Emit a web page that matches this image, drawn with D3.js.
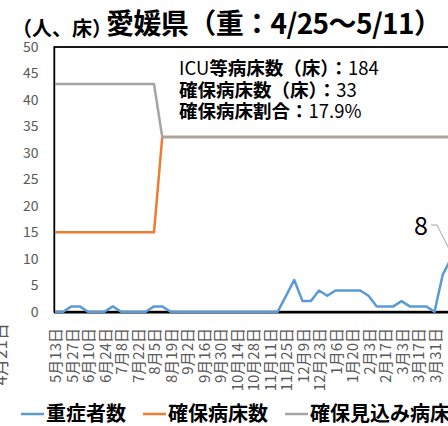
<!DOCTYPE html>
<meta charset="utf-8">
<script src="https://cdn.jsdelivr.net/npm/d3@7"></script>
<style>
  body { margin: 0; background: #fff; }
  text { font-family: "Noto Sans CJK JP", "Noto Sans", sans-serif; }
</style>
<body>
<script>

var width = 448
var height = 426

// weekly dates
var dates = ["5月13日","5月20日","5月27日","6月3日","6月10日","6月17日","6月24日","7月1日","7月8日","7月15日",
  "7月22日","7月29日","8月5日","8月12日","8月19日","8月26日","9月2日","9月9日","9月16日","9月23日",
  "9月30日","10月7日","10月14日","10月21日","10月28日","11月4日","11月11日","11月18日","11月25日","12月2日",
  "12月9日","12月16日","12月23日","12月30日","1月6日","1月13日","1月20日","1月27日","2月3日","2月10日",
  "2月17日","2月24日","3月3日","3月10日","3月17日","3月24日","3月31日","4月7日","4月14日","4月21日"]

var severe = [0,0,1,1,0,0,0,1,0,0, 0,0,1,1,0,0,0,0,0,0, 0,0,0,0,0,0,0,0,3,6,
  2,2,4,3,4,4,4,4,3,1, 1,1,2,1,1,1,0,7,10,8]
var secured = [15,15,15,15,15,15,15,15,15,15, 15,15,15,33,33,33,33,33,33,33, 33,33,33,33,33,33,33,33,33,33,
  33,33,33,33,33,33,33,33,33,33, 33,33,33,33,33,33,33,33,33,33]
var planned = [43,43,43,43,43,43,43,43,43,43, 43,43,43,33,33,33,33,33,33,33, 33,33,33,33,33,33,33,33,33,33,
  33,33,33,33,33,33,33,33,33,33, 33,33,33,33,33,33,33,33,33,33]

var yTicks = [0,5,10,15,20,25,30,35,40,45,50]
var seriesNames = ["重症者数", "確保病床数", "確保見込み病床数"]
var seriesColors = ["#5b9bd5", "#ed7d31", "#a5a5a5"]
var infoLines = ["ICU等病床数（床）：184", "確保病床数（床）：33", "確保病床割合：17.9%"]

var x = d3.scalePoint().domain(d3.range(dates.length)).range([55, 55 + 8.25 * (dates.length - 1)])
var y = d3.scaleLinear().domain([0, 50]).range([311.7, 47])

var svg = d3.select("body").append("svg")
            .attr("width", width)
            .attr("height", height)

// titles
svg.append("text").attr("x", 12).attr("y", 36)
   .style("font-size", "20px").style("font-weight", "bold").attr("fill", "#000")
   .text("（人、床）")
svg.append("text").attr("x", 106).attr("y", 34)
   .attr("textLength", 336).attr("lengthAdjust", "spacing")
   .style("font-size", "28px").style("font-weight", "bold").attr("fill", "#000")
   .text("愛媛県（重：4/25～5/11）")

// plot frame
svg.append("rect").attr("x", 54.3).attr("y", 47).attr("width", 460).attr("height", 264.7)
   .attr("fill", "none").attr("stroke", "#000").attr("stroke-width", 1.8)

// y axis labels
svg.append("g").selectAll("text").data(yTicks).join("text")
   .attr("x", 38.5).attr("y", d => y(d)).attr("dy", "0.35em")
   .attr("text-anchor", "end").attr("fill", "#595959").style("font-size", "14px")
   .text(d => d)

// x labels every other week
svg.append("g").selectAll("text").data(d3.range(0, dates.length, 2).filter(i => i <= 46)).join("text")
   .attr("transform", d => "translate(" + (x(d) + 1) + ",328) rotate(-90)")
   .attr("text-anchor", "end").attr("dy", "0.35em")
   .attr("fill", "#595959").style("font-size", "15px")
   .text(d => dates[d])

svg.append("text").attr("transform", "translate(1,323) rotate(-90)")
   .attr("text-anchor", "end").attr("dy", "0.35em")
   .attr("fill", "#595959").style("font-size", "17px")
   .text("4月21日")

// x axis line
svg.append("line").attr("x1", 54).attr("x2", 520).attr("y1", 312.3).attr("y2", 312.3)
   .attr("stroke", "#000").attr("stroke-width", 2.5)

// series
var line = d3.line().x((d, i) => x(i)).y(d => y(d))
;[severe, secured, planned].forEach(function(s, k) {
  svg.append("path").attr("d", line(s)).attr("fill", "none")
     .attr("stroke", seriesColors[k]).attr("stroke-width", 2.5).attr("stroke-linejoin", "round")
})

// data label for latest value
var last = dates.length - 1
svg.append("polyline")
   .attr("points", [[431, 225], [437, 225], [x(last), y(severe[last])]].map(p => p.join(",")).join(" "))
   .attr("fill", "none").attr("stroke", "#a5a5a5").attr("stroke-width", 1)
svg.append("text").attr("x", 428).attr("y", 235).attr("text-anchor", "end")
   .style("font-size", "25px").attr("fill", "#000").text(severe[last])

// info box: CJK in bold, latin/digits in regular
var info = svg.append("g").selectAll("text").data(infoLines).join("text")
   .attr("x", 179).attr("y", (d, i) => 75 + i * 21.5)
   .style("font-size", "18.5px").attr("fill", "#000")
info.selectAll("tspan").data(d => d.match(/[A-Za-z0-9.%]+|[^A-Za-z0-9.%]+/g)).join("tspan")
   .style("font-weight", d => /[A-Za-z0-9]/.test(d) ? "normal" : "bold")
   .text(d => d)

// legend
var legendX = [21, 143, 285]
var lg = svg.append("g").selectAll("g").data(seriesNames).join("g")
   .attr("transform", (d, i) => "translate(" + legendX[i] + ",414)")
lg.append("line").attr("x1", 0).attr("x2", 23).attr("stroke", (d, i) => seriesColors[i]).attr("stroke-width", 2.5)
lg.append("text").attr("x", 25).attr("dy", "0.36em")
  .style("font-size", "20px").style("font-weight", "bold").attr("fill", "#000")
  .text(d => d)

</script>
</body>
